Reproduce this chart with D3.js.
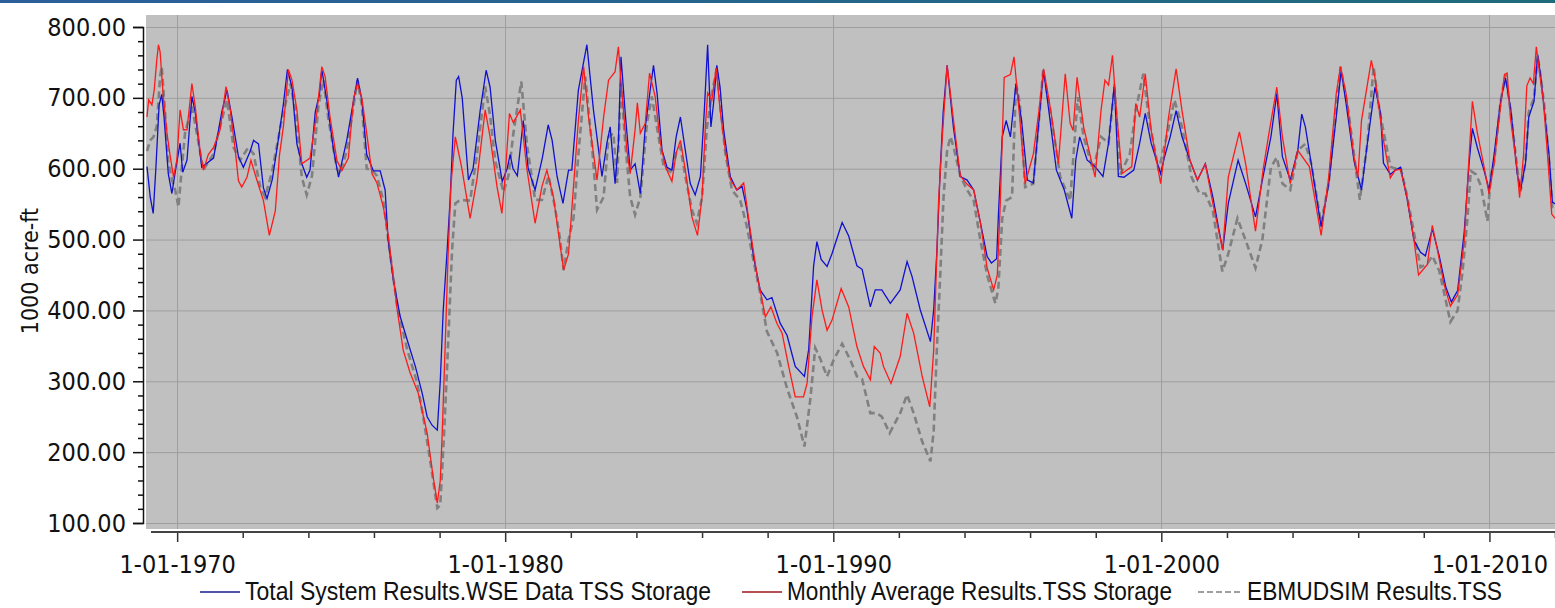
<!DOCTYPE html>
<html>
<head>
<meta charset="utf-8">
<script src="https://cdn.jsdelivr.net/npm/d3@7"></script>
<style>
  html, body { margin: 0; padding: 0; background: #ffffff; }
  svg { display: block; }
</style>
</head>
<body>
<svg id="chart" width="1555" height="608"></svg>
<script>
// ---------------- DATA (decimal year, value in 1000 acre-ft) ----------------
const seriesNames = [
  "Total System Results.WSE Data TSS Storage",
  "Monthly Average Results.TSS Storage",
  "EBMUDSIM Results.TSS"
];

const wseStorage = [
  [1969.08,603],[1969.18,560],[1969.27,537],[1969.35,600],[1969.45,690],[1969.53,705],[1969.60,673],[1969.73,593],[1969.84,565],[1969.94,595],
  [1970.09,636],[1970.17,595],[1970.30,612],[1970.45,702],[1970.55,680],[1970.75,602],[1971.11,615],[1971.36,680],[1971.52,711],[1971.67,673],
  [1971.87,617],[1972.02,602],[1972.23,625],[1972.33,640],[1972.48,635],[1972.63,573],[1972.74,558],[1972.90,585],[1973.08,640],[1973.24,692],
  [1973.36,740],[1973.50,715],[1973.65,635],[1973.80,607],[1973.95,588],[1974.05,598],[1974.21,680],[1974.34,706],[1974.41,740],[1974.56,697],
  [1974.77,626],[1974.92,588],[1975.17,640],[1975.33,683],[1975.50,728],[1975.63,697],[1975.78,620],[1975.98,597],[1976.19,597],[1976.34,570],
  [1976.43,500],[1976.59,443],[1976.80,391],[1977.04,354],[1977.26,321],[1977.47,283],[1977.62,250],[1977.77,238],[1977.93,231],[1978.02,300],
  [1978.11,400],[1978.23,485],[1978.32,556],[1978.41,650],[1978.51,725],[1978.58,730],[1978.69,700],[1978.88,584],[1979.02,600],[1979.24,683],
  [1979.42,739],[1979.54,715],[1979.70,640],[1979.91,582],[1980.06,600],[1980.15,620],[1980.24,600],[1980.37,590],[1980.55,668],[1980.70,600],
  [1980.91,570],[1981.13,615],[1981.31,662],[1981.43,640],[1981.58,589],[1981.76,551],[1981.93,598],[1982.03,598],[1982.23,711],[1982.49,775],
  [1982.69,683],[1982.95,589],[1983.10,636],[1983.20,659],[1983.35,579],[1983.45,636],[1983.53,758],[1983.66,678],[1983.81,598],[1983.96,607],
  [1984.12,565],[1984.27,659],[1984.52,746],[1984.63,706],[1984.78,626],[1984.93,602],[1985.08,598],[1985.21,645],[1985.34,673],[1985.49,626],
  [1985.64,579],[1985.79,563],[1985.95,589],[1986.07,683],[1986.17,775],[1986.27,659],[1986.35,692],[1986.45,746],[1986.55,715],[1986.66,654],
  [1986.86,589],[1987.06,570],[1987.22,575],[1987.37,542],[1987.57,476],[1987.77,429],[1987.98,415],[1988.13,418],[1988.38,382],[1988.59,365],
  [1988.84,321],[1989.12,307],[1989.25,345],[1989.40,463],[1989.50,497],[1989.63,472],[1989.81,462],[1989.96,480],[1990.27,524],[1990.47,505],
  [1990.72,463],[1990.88,458],[1991.13,405],[1991.28,429],[1991.48,429],[1991.74,410],[1992.04,429],[1992.25,469],[1992.40,448],[1992.65,401],
  [1992.96,356],[1993.06,401],[1993.16,486],[1993.26,600],[1993.35,680],[1993.47,746],[1993.66,659],[1993.87,589],[1994.08,584],[1994.28,570],
  [1994.51,518],[1994.69,476],[1994.82,467],[1994.98,473],[1995.04,541],[1995.15,645],[1995.27,668],[1995.40,645],[1995.57,720],[1995.74,668],
  [1995.92,584],[1996.10,580],[1996.27,668],[1996.41,739],[1996.57,682],[1996.80,598],[1997.04,570],[1997.27,530],[1997.39,612],[1997.51,645],
  [1997.74,612],[1997.98,603],[1998.22,589],[1998.39,636],[1998.57,720],[1998.69,589],[1998.86,588],[1999.16,598],[1999.34,636],[1999.51,678],
  [1999.69,636],[1999.98,593],[2000.10,617],[2000.27,645],[2000.45,682],[2000.63,645],[2000.87,612],[2001.10,584],[2001.34,607],[2001.57,560],
  [2001.87,485],[2002.04,551],[2002.34,612],[2002.57,579],[2002.87,532],[2003.10,589],[2003.34,645],[2003.52,706],[2003.69,617],[2003.93,584],
  [2004.16,626],[2004.28,677],[2004.39,659],[2004.57,607],[2004.87,518],[2005.10,579],[2005.33,673],[2005.48,739],[2005.63,692],[2005.87,612],
  [2006.10,570],[2006.28,636],[2006.51,715],[2006.68,679],[2006.77,608],[2006.98,592],[2007.13,598],[2007.29,602],[2007.49,558],[2007.70,499],
  [2007.90,482],[2008.05,477],[2008.26,515],[2008.47,477],[2008.67,433],[2008.84,412],[2009.03,428],[2009.23,510],[2009.38,608],[2009.48,657],
  [2009.63,630],[2009.84,597],[2009.99,570],[2010.14,619],[2010.34,695],[2010.49,728],[2010.65,684],[2010.85,592],[2010.95,570],[2011.10,608],
  [2011.20,673],[2011.36,695],[2011.47,761],[2011.57,728],[2011.67,684],[2011.82,619],[2011.92,553],[2012.02,550]
];

const monthlyAvgStorage = [
  [1969.08,673],[1969.13,697],[1969.23,690],[1969.30,711],[1969.38,754],[1969.43,775],[1969.48,765],[1969.58,700],[1969.69,650],[1969.79,617],
  [1969.89,588],[1969.99,612],[1970.09,683],[1970.19,655],[1970.30,655],[1970.45,720],[1970.55,688],[1970.70,625],[1970.80,598],[1970.95,620],
  [1971.11,630],[1971.31,655],[1971.49,716],[1971.62,683],[1971.77,627],[1971.87,583],[1971.97,574],[1972.13,588],[1972.25,612],[1972.43,584],
  [1972.63,555],[1972.81,506],[1972.99,540],[1973.12,620],[1973.24,660],[1973.39,740],[1973.50,725],[1973.65,683],[1973.80,607],[1974.05,615],
  [1974.26,680],[1974.41,744],[1974.51,730],[1974.66,673],[1974.87,612],[1975.02,597],[1975.22,615],[1975.38,700],[1975.50,720],[1975.63,700],
  [1975.78,650],[1975.94,593],[1976.09,580],[1976.29,545],[1976.44,504],[1976.71,400],[1976.89,344],[1977.10,312],[1977.35,283],[1977.62,227],
  [1977.80,166],[1977.93,128],[1978.02,160],[1978.08,227],[1978.17,350],[1978.26,480],[1978.35,580],[1978.48,645],[1978.68,600],[1978.93,530],
  [1979.14,585],[1979.39,683],[1979.54,645],[1979.75,575],[1979.90,537],[1980.00,590],[1980.13,678],[1980.25,665],[1980.46,683],[1980.66,600],
  [1980.91,523],[1981.12,575],[1981.27,598],[1981.47,560],[1981.62,510],[1981.78,457],[1981.93,480],[1982.08,574],[1982.23,668],[1982.39,744],
  [1982.54,673],[1982.80,584],[1983.00,673],[1983.15,725],[1983.35,737],[1983.45,772],[1983.56,706],[1983.71,626],[1983.81,593],[1983.96,655],
  [1984.03,693],[1984.12,650],[1984.27,664],[1984.40,735],[1984.57,702],[1984.73,636],[1984.88,603],[1985.08,582],[1985.21,622],[1985.34,640],
  [1985.49,598],[1985.69,532],[1985.86,506],[1986.00,560],[1986.10,659],[1986.17,707],[1986.30,697],[1986.43,742],[1986.55,683],[1986.71,626],
  [1986.86,585],[1987.06,570],[1987.27,580],[1987.47,513],[1987.67,452],[1987.83,415],[1987.93,391],[1988.10,405],[1988.28,382],[1988.44,368],
  [1988.64,321],[1988.84,278],[1989.09,278],[1989.20,297],[1989.35,391],[1989.50,443],[1989.66,400],[1989.81,372],[1989.96,386],[1990.24,431],
  [1990.47,405],[1990.72,349],[1990.92,321],[1991.13,302],[1991.25,349],[1991.43,340],[1991.53,321],[1991.76,297],[1992.04,335],[1992.25,396],
  [1992.45,368],[1992.71,307],[1992.94,264],[1993.06,344],[1993.21,556],[1993.33,650],[1993.47,746],[1993.66,670],[1993.87,590],[1994.08,578],
  [1994.28,570],[1994.48,525],[1994.69,460],[1994.89,429],[1995.00,450],[1995.09,550],[1995.21,729],[1995.40,733],[1995.51,758],[1995.69,669],
  [1995.85,579],[1996.10,621],[1996.27,682],[1996.41,741],[1996.63,682],[1996.86,607],[1997.07,734],[1997.22,664],[1997.31,654],[1997.43,729],
  [1997.63,659],[1997.98,588],[1998.16,682],[1998.28,725],[1998.39,718],[1998.51,760],[1998.63,682],[1998.80,593],[1999.10,603],[1999.22,692],
  [1999.34,673],[1999.51,734],[1999.69,654],[1999.98,579],[2000.22,673],[2000.45,741],[2000.63,682],[2000.87,612],[2001.10,584],[2001.34,607],
  [2001.57,551],[2001.87,485],[2002.04,588],[2002.38,652],[2002.57,607],[2002.87,512],[2003.10,598],[2003.28,650],[2003.52,715],[2003.69,645],
  [2003.93,579],[2004.16,626],[2004.51,603],[2004.87,506],[2005.10,588],[2005.33,706],[2005.46,744],[2005.63,706],[2005.87,617],[2005.99,588],
  [2006.10,668],[2006.40,753],[2006.51,729],[2006.75,645],[2006.98,587],[2007.13,598],[2007.29,599],[2007.49,560],[2007.70,500],[2007.84,450],
  [2008.11,465],[2008.26,520],[2008.41,487],[2008.61,438],[2008.81,406],[2009.03,422],[2009.23,498],[2009.38,618],[2009.48,695],[2009.63,651],
  [2009.84,602],[2009.99,564],[2010.14,607],[2010.34,689],[2010.46,733],[2010.54,735],[2010.64,672],[2010.84,602],[2010.92,559],[2011.04,619],
  [2011.14,717],[2011.24,728],[2011.34,720],[2011.43,772],[2011.55,728],[2011.65,695],[2011.80,602],[2011.90,536],[2012.00,530]
];

const ebmudsimStorage = [
  [1969.08,625],[1969.18,640],[1969.28,645],[1969.38,660],[1969.48,730],[1969.53,744],[1969.63,680],[1969.73,610],[1969.84,585],[1969.94,570],
  [1970.04,546],[1970.14,600],[1970.24,650],[1970.45,688],[1970.60,650],[1970.80,598],[1971.11,621],[1971.31,660],[1971.52,697],[1971.72,630],
  [1971.92,612],[1972.17,630],[1972.33,621],[1972.53,575],[1972.68,560],[1972.89,595],[1973.19,670],[1973.45,720],[1973.60,683],[1973.80,588],
  [1973.95,563],[1974.11,590],[1974.31,690],[1974.46,725],[1974.61,670],[1974.87,600],[1974.97,593],[1975.17,625],[1975.38,690],[1975.50,725],
  [1975.63,690],[1975.78,600],[1975.94,598],[1976.09,590],[1976.28,556],[1976.49,480],[1976.71,405],[1977.01,345],[1977.32,297],[1977.50,250],
  [1977.71,189],[1977.93,121],[1978.02,125],[1978.13,220],[1978.23,321],[1978.38,485],[1978.48,551],[1978.63,556],[1978.93,555],[1979.14,620],
  [1979.39,716],[1979.54,675],[1979.70,610],[1979.95,567],[1980.10,590],[1980.25,650],[1980.49,723],[1980.66,635],[1980.91,556],[1981.12,556],
  [1981.32,590],[1981.52,545],[1981.66,504],[1981.78,457],[1981.93,500],[1982.08,530],[1982.23,620],[1982.44,730],[1982.64,635],[1982.80,542],
  [1983.00,560],[1983.15,645],[1983.30,650],[1983.41,580],[1983.53,721],[1983.66,636],[1983.81,560],[1983.96,535],[1984.12,560],[1984.32,664],
  [1984.47,702],[1984.62,660],[1984.83,603],[1985.08,594],[1985.21,622],[1985.34,631],[1985.49,589],[1985.69,542],[1985.84,523],[1986.00,560],
  [1986.15,659],[1986.30,706],[1986.45,742],[1986.55,692],[1986.71,622],[1986.91,570],[1987.16,556],[1987.36,520],[1987.57,470],[1987.77,425],
  [1987.98,370],[1988.29,340],[1988.59,290],[1988.89,250],[1989.12,208],[1989.30,275],[1989.45,347],[1989.60,332],[1989.81,307],[1990.01,330],
  [1990.27,353],[1990.52,330],[1990.72,307],[1990.88,303],[1991.13,255],[1991.33,255],[1991.48,250],[1991.72,227],[1992.04,255],[1992.25,281],
  [1992.45,255],[1992.71,215],[1992.96,187],[1993.06,230],[1993.16,350],[1993.26,450],[1993.36,560],[1993.47,626],[1993.57,645],[1993.67,630],
  [1993.87,590],[1994.08,570],[1994.28,555],[1994.48,500],[1994.69,450],[1994.94,410],[1995.03,430],[1995.15,530],[1995.27,555],[1995.45,560],
  [1995.57,720],[1995.69,691],[1995.85,574],[1996.10,579],[1996.40,739],[1996.63,677],[1996.92,588],[1997.22,555],[1997.45,701],[1997.63,645],
  [1997.92,598],[1998.16,645],[1998.39,636],[1998.57,715],[1998.75,592],[1999.04,621],[1999.22,682],[1999.45,734],[1999.63,668],[1999.92,598],
  [2000.16,645],[2000.40,697],[2000.63,659],[2000.92,588],[2001.16,565],[2001.34,565],[2001.57,540],[2001.86,455],[2002.04,480],[2002.32,530],
  [2002.56,500],[2002.87,460],[2003.08,500],[2003.34,602],[2003.52,616],[2003.69,579],[2003.93,570],[2004.16,626],[2004.39,635],[2004.57,607],
  [2004.87,523],[2005.10,579],[2005.46,744],[2005.70,682],[2006.05,556],[2006.28,636],[2006.47,744],[2006.65,682],[2006.98,603],[2007.13,600],
  [2007.29,602],[2007.49,562],[2007.70,510],[2007.90,461],[2008.11,466],[2008.26,477],[2008.47,456],[2008.67,414],[2008.81,384],[2009.03,400],
  [2009.18,455],[2009.33,530],[2009.43,597],[2009.59,592],[2009.74,576],[2009.94,526],[2010.04,591],[2010.14,608],[2010.34,695],[2010.49,733],
  [2010.65,680],[2010.85,600],[2010.95,568],[2011.10,610],[2011.20,680],[2011.36,700],[2011.47,760],[2011.57,728],[2011.67,690],[2011.82,610],
  [2011.92,545],[2012.02,540]
];

const yMajorTicks = [100, 200, 300, 400, 500, 600, 700, 800];
const xMajorTickYears = [1970, 1980, 1990, 2000, 2010];
const xMinorTickYears = [1972, 1974, 1976, 1978, 1982, 1984, 1986, 1988, 1992, 1994, 1996, 1998, 2002, 2004, 2006, 2008, 2011.999];
const yAxisTitle = "1000 acre-ft";

// ---------------- HELPERS ----------------
function toDate(t) {
  const y = Math.floor(t);
  const a = new Date(y, 0, 1), b = new Date(y + 1, 0, 1);
  return new Date(+a + (t - y) * (b - a));
}

// ---------------- LAYOUT ----------------
const W = 1555, H = 608;
const plot = { left: 146, right: 1555, top: 15, bottom: 529 };
const yAxisX = 143, xAxisY = 532;

const svg = d3.select("#chart");

// top banner
const defs = svg.append("defs");
const grad = defs.append("linearGradient").attr("id", "banner").attr("x1", "0").attr("x2", "1");
grad.append("stop").attr("offset", "0").attr("stop-color", "#2c5f9b");
grad.append("stop").attr("offset", "1").attr("stop-color", "#1f6c7c");
svg.append("rect").attr("x", 0).attr("y", 0).attr("width", W).attr("height", 3).attr("fill", "url(#banner)");

defs.append("clipPath").attr("id", "plotClip")
  .append("rect").attr("x", plot.left).attr("y", plot.top)
  .attr("width", plot.right - plot.left).attr("height", plot.bottom - plot.top);

// ---------------- SCALES ----------------
const x = d3.scaleTime()
  .domain([toDate(1969.05), toDate(2012.0)])
  .range([plot.left, plot.right]);
const y = d3.scaleLinear().domain([100, 800]).range([523, 27]);

// plot background
svg.append("rect")
  .attr("x", plot.left).attr("y", plot.top)
  .attr("width", plot.right - plot.left).attr("height", plot.bottom - plot.top)
  .attr("fill", "#c0c0c0");

// gridlines
const grid = svg.append("g").attr("clip-path", "url(#plotClip)");
grid.selectAll("line.h").data(yMajorTicks).enter().append("line")
  .attr("x1", plot.left).attr("x2", plot.right)
  .attr("y1", d => y(d) + 0.5).attr("y2", d => y(d) + 0.5)
  .attr("stroke", "#9e9e9e").attr("stroke-width", 1);
grid.selectAll("line.v").data(xMajorTickYears).enter().append("line")
  .attr("x1", d => Math.round(x(toDate(d))) + 0.5).attr("x2", d => Math.round(x(toDate(d))) + 0.5)
  .attr("y1", plot.top).attr("y2", plot.bottom)
  .attr("stroke", "#9e9e9e").attr("stroke-width", 1);

// ---------------- LINES ----------------
const line = d3.line()
  .x(d => x(toDate(d[0])))
  .y(d => y(d[1]))
  .curve(d3.curveLinear);

const lines = svg.append("g").attr("clip-path", "url(#plotClip)");
lines.append("path").datum(ebmudsimStorage)
  .attr("d", line).attr("fill", "none")
  .attr("stroke", "#808080").attr("stroke-width", 2.6)
  .attr("stroke-dasharray", "7,4");
lines.append("path").datum(wseStorage)
  .attr("d", line).attr("fill", "none")
  .attr("stroke", "#1010d0").attr("stroke-width", 1.3);
lines.append("path").datum(monthlyAvgStorage)
  .attr("d", line).attr("fill", "none")
  .attr("stroke", "#ff1a1a").attr("stroke-width", 1.3);

// ---------------- AXES ----------------
const tickFont = '"DejaVu Sans Condensed", "Liberation Sans", Arial, sans-serif';

// Y axis
const yMinor = d3.range(100, 801, 20).filter(v => v % 100 !== 0);
const yAx = svg.append("g").attr("transform", `translate(${yAxisX},0)`);
yAx.call(d3.axisLeft(y).tickValues(yMajorTicks).tickSize(10).tickPadding(7)
  .tickFormat(d3.format(".2f")));
yAx.select(".domain").attr("stroke", "#111").attr("stroke-width", 1.5);
yAx.selectAll(".tick line").attr("stroke", "#111").attr("stroke-width", 1.5);
yAx.selectAll(".tick text").attr("font-family", tickFont).attr("font-size", "25px").attr("fill", "#111");
const yAxMinor = svg.append("g").attr("transform", `translate(${yAxisX},0)`);
yAxMinor.call(d3.axisLeft(y).tickValues(yMinor).tickSize(5).tickFormat(""));
yAxMinor.select(".domain").remove();
yAxMinor.selectAll(".tick line").attr("stroke", "#111").attr("stroke-width", 1.5);

// X axis
const xAx = svg.append("g").attr("transform", `translate(0,${xAxisY})`);
xAx.call(d3.axisBottom(x).tickValues(xMajorTickYears.map(toDate)).tickSize(10)
  .tickFormat(d3.timeFormat("%-m-%d-%Y")));
xAx.select(".domain").remove();
xAx.selectAll(".tick line").attr("stroke", "#333").attr("stroke-width", 1.5);
xAx.selectAll(".tick text")
  .attr("font-family", tickFont).attr("font-size", "25px").attr("fill", "#111")
  .attr("y", 41).attr("dy", 0);
const xAxMinor = svg.append("g").attr("transform", `translate(0,${xAxisY})`);
xAxMinor.call(d3.axisBottom(x).tickValues(xMinorTickYears.map(toDate)).tickSize(6).tickFormat(""));
xAxMinor.select(".domain").remove();
xAxMinor.selectAll(".tick line").attr("stroke", "#333").attr("stroke-width", 1.5);
svg.append("line")
  .attr("x1", 151).attr("x2", W).attr("y1", xAxisY).attr("y2", xAxisY)
  .attr("stroke", "#444").attr("stroke-width", 2);

// Y axis title
svg.append("text")
  .attr("transform", "translate(38,271) rotate(-90)")
  .attr("text-anchor", "middle")
  .attr("font-family", tickFont)
  .attr("font-size", "23px").attr("fill", "#111")
  .text(yAxisTitle);

// ---------------- LEGEND ----------------
const legendItems = [
  { name: seriesNames[0], color: "#1a1a8c", dash: null, x0: 200, x1: 240, tx: 245, w: 466 },
  { name: seriesNames[1], color: "#a01818", dash: null, x0: 742, x1: 782, tx: 787, w: 385 },
  { name: seriesNames[2], color: "#808080", dash: "6,3", x0: 1198, x1: 1243, tx: 1247, w: 255 }
];
const lg = svg.append("g");
const legendY = 592;
legendItems.forEach(it => {
  lg.append("line").attr("x1", it.x0).attr("x2", it.x1).attr("y1", legendY).attr("y2", legendY)
    .attr("stroke", it.color).attr("stroke-width", 1.5)
    .attr("stroke-dasharray", it.dash);
  lg.append("text").attr("x", it.tx).attr("y", legendY + 8)
    .attr("font-family", '"Liberation Sans Narrow", "Arial Narrow", "Liberation Sans", sans-serif')
    .attr("font-size", "25px").attr("fill", "#111")
    .attr("textLength", it.w).attr("lengthAdjust", "spacingAndGlyphs")
    .text(it.name);
});
</script>
</body>
</html>
